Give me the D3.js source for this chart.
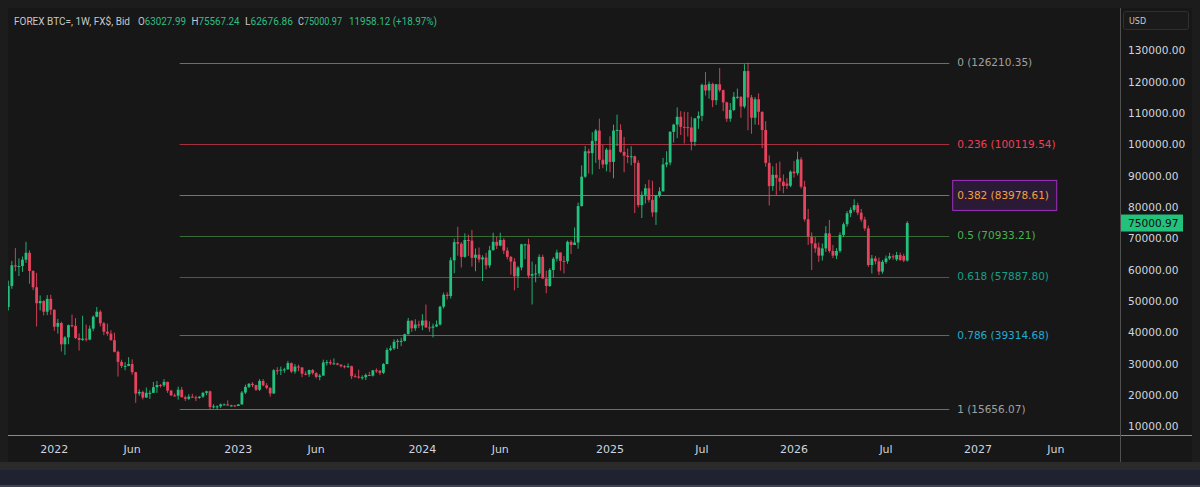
<!DOCTYPE html>
<html>
<head>
<meta charset="utf-8">
<script src="https://cdn.jsdelivr.net/npm/d3@7"></script>
<style>
  html, body { margin: 0; padding: 0; background: #1c1c1c; }
  svg { display: block; font-family: "DejaVu Sans", Verdana, sans-serif; }
</style>
</head>
<body>
<svg id="chart" width="1200" height="487"></svg>
<script>
"use strict";  // weekly BTC candles with a fibonacci retracement

// ----------------------------------------
//  Data  (weekly candles: [open, high, low, close] in thousands USD)
// ----------------------------------------
const firstWeek = "2021-10-04";   // monday of the first candle, one candle per week

const w2021 = [
    [48.2,56.6,47.1,54.9],[54.9,62.9,54.0,61.5],[61.5,67.0,59.6,61.1],[61.1,63.7,58.1,61.3],
    [61.3,64.3,59.4,63.3],[63.3,69.0,62.3,65.5],[65.5,66.3,55.6,59.7],[59.7,59.9,53.6,54.5],
    [54.5,59.1,42.0,49.4],[49.4,51.9,47.1,50.1],[50.1,50.4,45.5,46.7],[46.7,52.0,45.6,50.8],
    [50.8,52.1,45.7,47.3]
];
const w2022 = [
    [47.3,47.5,40.6,41.9],[41.9,44.4,39.7,43.1],[43.1,43.5,34.0,36.3],[36.3,38.9,32.9,38.5],
    [38.5,42.6,36.3,42.4],[42.4,45.8,41.7,42.2],[42.2,44.7,38.0,38.3],[38.3,39.8,34.3,37.7],
    [37.7,45.4,37.4,38.1],[38.1,42.6,37.2,37.8],[37.8,42.3,37.6,41.3],[41.3,45.5,40.5,45.1],
    [45.1,48.2,44.9,46.7],[46.7,47.2,42.0,43.0],[43.0,43.4,39.2,40.3],[40.3,42.9,39.0,39.7],
    [39.7,40.8,37.5,37.6],[37.6,40.0,33.7,33.9],[33.9,34.3,26.0,30.7],[30.7,31.4,28.7,29.4],
    [29.4,30.6,28.0,29.4],[29.4,32.2,29.3,30.0],[30.0,31.5,26.6,27.4],[27.4,27.5,17.6,20.6],
    [20.6,21.9,19.9,21.1],[21.1,21.5,18.7,19.3],[19.3,22.5,19.2,20.8],[20.8,21.6,18.9,20.8],
    [20.8,24.3,20.8,22.6],[22.6,24.6,20.8,23.3],[23.3,23.6,22.5,23.2],[23.2,25.2,22.7,24.3],
    [24.3,24.4,20.8,21.5],[21.5,21.8,19.8,20.0],[20.0,20.6,19.6,19.9],[19.9,22.8,18.6,21.8],
    [21.8,22.7,19.4,19.4],[19.4,19.9,18.2,18.9],[18.9,20.4,18.5,19.6],[19.6,20.5,19.3,19.4],
    [19.4,19.9,18.2,19.2],[19.2,19.7,18.9,19.6],[19.6,21.1,19.2,20.8],[20.8,21.5,20.1,21.3],
    [21.3,21.5,15.6,16.3],[16.3,17.2,15.8,16.5],[16.5,16.8,15.5,16.5],[16.5,17.4,16.0,17.1],
    [17.1,17.4,16.9,17.1],[17.1,18.4,16.6,16.8],[16.8,17.0,16.4,16.8],[16.8,16.9,16.3,16.6]
];
const w2023 = [
    [16.6,17.2,16.6,17.1],[17.1,21.4,17.1,20.9],[20.9,23.4,20.4,22.7],[22.7,23.9,22.3,23.7],
    [23.7,24.2,22.6,23.3],[23.3,23.4,21.4,21.8],[21.8,25.2,21.4,24.6],[24.6,25.2,22.9,23.2],
    [23.2,23.9,21.9,22.4],[22.4,22.6,19.6,20.6],[20.6,28.4,20.5,28.0],[28.0,29.0,26.6,27.9],
    [27.9,29.2,26.5,28.2],[28.2,28.8,27.2,28.3],[28.3,31.0,28.2,30.3],[30.3,30.5,27.1,27.6],
    [27.6,30.0,26.9,29.2],[29.2,29.8,27.7,28.9],[28.9,29.0,25.8,26.9],[26.9,27.7,26.4,26.7],
    [26.7,28.2,25.9,28.1],[28.1,28.4,26.6,27.1],[27.1,27.4,25.4,25.9],[25.9,26.8,24.8,26.3],
    [26.3,31.4,26.3,30.5],[30.5,31.3,29.5,30.6],[30.6,31.4,29.7,30.2],[30.2,31.8,29.9,30.2],
    [30.2,30.4,29.6,29.8],[29.8,29.9,28.9,29.3],[29.3,29.7,28.6,29.0],[29.0,30.2,28.8,29.3],
    [29.3,29.5,25.2,26.1],[26.1,26.9,25.8,26.0],[26.0,28.2,25.3,25.8],[25.8,26.4,25.0,25.8],
    [25.8,27.0,24.9,26.5],[26.5,27.5,26.3,26.3],[26.3,28.0,26.0,28.0],[28.0,28.6,27.2,27.9],
    [27.9,28.0,26.5,27.2],[27.2,30.3,26.8,30.0],[30.0,35.2,29.9,34.5],[34.5,35.9,34.1,35.0],
    [35.0,37.9,34.5,37.1],[37.1,38.0,34.8,37.4],[37.4,38.4,35.7,37.4],[37.4,39.7,37.2,39.5],
    [39.5,44.7,39.5,43.8],[43.8,44.0,40.2,41.4],[41.4,44.3,40.6,42.6],[42.6,43.8,41.5,42.3]
];
const w2024 = [
    [42.3,45.9,40.8,43.9],[43.9,49.0,41.5,41.7],[41.7,43.6,40.3,41.6],[41.6,42.9,38.5,42.0],
    [42.0,43.9,41.8,42.6],[42.6,48.6,42.3,48.3],[48.3,52.8,47.7,52.1],[52.1,52.9,50.6,51.7],
    [51.7,64.0,50.9,63.1],[63.1,70.0,59.0,68.9],[68.9,73.8,64.6,68.4],[68.4,68.9,60.8,64.2],
    [64.2,71.7,63.9,69.6],[69.6,71.3,64.5,69.4],[69.4,72.8,61.1,63.9],[63.9,66.9,59.6,64.9],
    [64.9,67.2,62.4,63.4],[63.4,64.7,56.5,64.0],[64.0,65.5,60.2,61.5],[61.5,67.7,60.7,66.3],
    [66.3,71.9,66.3,69.0],[69.0,70.6,66.7,67.8],[67.8,71.9,67.6,69.6],[69.6,70.2,65.1,66.2],
    [66.2,67.2,63.4,64.2],[64.2,64.5,58.5,62.7],[62.7,63.8,53.5,58.0],[58.0,61.3,54.3,60.8],
    [60.8,68.4,59.9,68.2],[68.2,68.4,63.5,68.2],[68.2,70.0,57.3,58.2],[58.2,62.7,49.0,58.7],
    [58.7,61.8,56.1,58.9],[58.9,65.0,57.9,64.2],[64.2,64.9,57.2,57.3],[57.3,59.8,52.6,54.9],
    [54.9,60.6,54.6,60.0],[60.0,64.1,57.6,63.6],[63.6,66.5,62.7,65.6],[65.6,65.6,59.8,62.9],
    [62.9,64.5,58.9,62.8],[62.8,69.4,62.0,69.0],[69.0,69.5,65.1,68.0],[68.0,73.6,68.0,68.8],
    [68.8,81.5,66.8,80.4],[80.4,93.4,80.3,89.8],[89.8,99.6,89.4,97.9],[97.9,98.7,90.8,97.3],
    [97.3,104.0,90.5,101.2],[101.2,105.0,94.2,104.5],[104.5,108.3,92.2,95.2],[95.2,99.9,92.5,93.7],
    [93.7,99.0,91.5,98.4]
];
const w2025 = [
    [98.4,102.7,91.2,94.5],[94.5,106.4,89.3,104.5],[104.5,109.6,99.6,104.7],[104.7,106.5,97.4,97.7],
    [97.7,102.5,91.2,96.5],[96.5,98.8,94.1,96.1],[96.1,99.5,93.4,96.3],[96.3,96.5,78.2,94.2],
    [94.2,95.0,80.0,80.7],[80.7,85.1,76.6,84.0],[84.0,87.4,81.2,86.1],[86.1,88.8,81.6,82.4],
    [82.4,88.5,77.0,78.4],[78.4,84.0,74.4,83.7],[83.7,86.4,83.1,85.1],[85.1,95.8,85.1,93.7],
    [93.7,97.9,92.8,94.3],[94.3,104.3,93.4,104.1],[104.1,106.7,100.7,106.4],[106.4,111.9,102.1,108.9],
    [108.9,110.7,103.1,105.7],[105.7,110.5,100.4,105.6],[105.6,110.4,102.6,105.5],[105.5,108.9,98.2,100.9],
    [100.9,108.5,99.6,108.4],[108.4,110.6,105.1,109.2],[109.2,119.5,107.5,119.1],[119.1,123.2,115.7,117.3],
    [117.3,120.2,114.7,119.4],[119.4,119.8,112.0,114.2],[114.2,119.3,112.7,119.3],[119.3,124.5,116.8,117.4],
    [117.4,117.6,110.7,113.5],[113.5,113.7,107.3,108.3],[108.3,113.3,107.3,111.1],[111.1,116.8,110.7,115.3],
    [115.3,117.9,114.6,115.3],[115.3,115.4,108.6,112.2],[112.2,125.7,111.6,123.5],[123.5,126.2,104.6,115.1],
    [115.1,115.9,103.5,108.6],[108.6,115.2,106.4,114.5],[114.5,116.4,106.3,110.5],[110.5,110.6,98.9,104.7],
    [104.7,107.5,93.0,94.2],[94.2,96.6,80.6,86.8],[86.8,93.1,85.3,90.4],[90.4,94.1,83.8,89.4],
    [89.4,94.6,85.3,88.2],[88.2,90.5,84.5,86.8],[87.6,89.3,85.9,86.9],[86.9,91.8,86.5,91.4]
];
const w2026 = [
    [91.4,94.8,89.5,90.9],[90.9,97.8,90.2,95.3],[95.3,96.0,86.0,86.6],[86.6,88.5,75.5,76.2],
    [76.2,79.5,68.0,70.6],[70.6,72.0,60.0,68.5],[68.5,70.5,65.5,66.9],[67.2,68.8,62.6,64.6],
    [64.6,68.5,63.0,66.9],[66.9,74.0,65.8,71.7],[71.7,76.0,65.5,66.1],[66.1,68.0,63.8,64.6],
    [64.6,67.0,63.5,66.1],[66.1,72.0,65.5,71.2],[71.2,75.2,70.5,74.6],[74.6,78.8,73.8,78.1],
    [78.1,80.0,76.9,79.2],[79.2,82.6,78.5,80.7],[80.7,81.5,77.5,78.3],[78.3,79.5,75.4,76.1],
    [76.1,77.0,72.5,73.3],[73.3,74.2,61.0,61.6],[61.6,64.8,58.9,63.7],[63.7,64.5,61.8,62.8],
    [62.8,64.0,58.4,59.5],[59.5,63.2,58.8,62.6],[62.6,64.6,62.0,63.7],[63.7,65.5,63.2,64.4],
    [64.4,65.0,63.3,64.1],[63.4,65.8,62.9,64.8],[64.8,65.6,62.9,63.2],[64.5,65.2,62.5,63.03],
    [63.03,75.57,62.68,75.0]
];

// Fibonacci retracement
const fibLevels = [0, 0.236, 0.382, 0.5, 0.618, 0.786, 1];
const fibPrices = [126210.35, 100119.54, 83978.61, 70933.21, 57887.80, 39314.68, 15656.07];
const fibLineColors = ["#6e6e6e", "#a3303f", "#9c7024", "#3b6b35", "#17705c", "#1a819e", "#6e6e6e"];
const fibTextColors = ["#a0a0a0", "#ee3f57", "#f4a03c", "#4caf50", "#14a088", "#22abd4", "#a0a0a0"];
const fibFrom = "2022-09-08";
const fibTo = "2026-11-08";

// axes
const priceTicks = [10000, 20000, 30000, 40000, 50000, 60000, 70000, 80000, 90000, 100000, 110000, 120000, 130000];
const timeTickDates = ["2022-01-03", "2022-06-06", "2023-01-02", "2023-06-05", "2024-01-01", "2024-06-03",
                       "2025-01-06", "2025-07-07", "2026-01-05", "2026-07-06", "2027-01-04", "2027-06-07"];
const timeTickLabels = ["2022", "Jun", "2023", "Jun", "2024", "Jun", "2025", "Jul", "2026", "Jul", "2027", "Jun"];

// header (last candle)
const headerTitle = "FOREX BTC=, 1W, FX$, Bid";
const headerKeys = ["O", "H", "L", "C", ""];
const headerValues = ["63027.99", "75567.24", "62676.86", "75000.97", "11958.12 (+18.97%)"];
const lastPrice = 75000.97;

// ----------------------------------------
//  Appearance Settings
// ----------------------------------------
let plot = {left: 8, right: 1120, top: 8, bottom: 435};
let up_color = "#24c07e";
let down_color = "#e6445e";
let body_width = 2.8;
let header_font = "Roboto, 'Noto Sans', sans-serif";

let svg = d3.select("#chart");

let x_scale = d3.scaleUtc()
    .domain([new Date("2021-10-04"), new Date("2027-06-07")])
    .range([8.3, 1055.9]);

let y_scale = d3.scaleLinear()
    .domain([10000, 130000])
    .range([426.7, 50.7]);  // reversed because high is up

let start = new Date(firstWeek);
let candles = [].concat(w2021, w2022, w2023, w2024, w2025, w2026).map(function (d, i) {
    return {
        date: d3.utcDay.offset(start, 7 * i),
        open: d[0] * 1000, high: d[1] * 1000, low: d[2] * 1000, close: d[3] * 1000
    };
});

// ----------------------------------------
//  Frame
// ----------------------------------------
svg.append("rect").attr("width", 1200).attr("height", 487).attr("fill", "#1c1c1c");
svg.append("rect")
    .attr("x", 8).attr("y", 8).attr("width", 1184).attr("height", 454)
    .attr("fill", "#171717");
svg.append("rect").attr("x", 0).attr("y", 462).attr("width", 1200).attr("height", 8).attr("fill", "#2a2a2a");
svg.append("rect").attr("x", 0).attr("y", 470).attr("width", 1200).attr("height", 15).attr("fill", "#1e2231");
svg.append("rect").attr("x", 0).attr("y", 485).attr("width", 1200).attr("height", 2).attr("fill", "#3f4250");

svg.append("clipPath").attr("id", "plotclip")
    .append("rect")
    .attr("x", plot.left).attr("y", plot.top)
    .attr("width", plot.right - plot.left).attr("height", plot.bottom - plot.top);

let g = svg.append("g").attr("clip-path", "url(#plotclip)");

// ----------------------------------------
//  Fibonacci lines
// ----------------------------------------
let fib = fibLevels.map(function (lvl, i) {
    return {level: lvl, price: fibPrices[i], line: fibLineColors[i], text: fibTextColors[i]};
});

let fx0 = x_scale(new Date(fibFrom));
let fx1 = x_scale(new Date(fibTo));

g.selectAll(".fib_line")
    .data(fib)
    .enter()
    .append("line")
    .attr("class", "fib_line")
    .attr("x1", fx0).attr("x2", fx1)
    .attr("y1", function (d) { return Math.round(y_scale(d.price)) + 0.5; })
    .attr("y2", function (d) { return Math.round(y_scale(d.price)) + 0.5; })
    .attr("stroke", function (d) { return d.line; })
    .attr("stroke-width", 1);

// box behind the 0.382 label
let box_level = fib[2];
g.append("rect")
    .attr("x", fx1 + 3.5).attr("y", y_scale(box_level.price) - 14.5)
    .attr("width", 104).attr("height", 30)
    .attr("fill", "#2a1a36")
    .attr("stroke", "#a22fc2")
    .attr("stroke-width", 1);

g.selectAll(".fib_label")
    .data(fib)
    .enter()
    .append("text")
    .attr("class", "fib_label")
    .attr("x", fx1 + 8)
    .attr("y", function (d) { return y_scale(d.price); })
    .attr("dy", "0.35em")
    .attr("fill", function (d) { return d.text; })
    .style("font-size", "10.5px")
    .text(function (d) { return d.level + " (" + d.price.toFixed(2) + ")"; });

// ----------------------------------------
//  Candles
// ----------------------------------------
let color = function (d) { return d.close >= d.open ? up_color : down_color; };

g.selectAll(".wick")
    .data(candles)
    .enter()
    .append("line")
    .attr("class", "wick")
    .attr("x1", function (d) { return x_scale(d.date); })
    .attr("x2", function (d) { return x_scale(d.date); })
    .attr("y1", function (d) { return y_scale(d.high); })
    .attr("y2", function (d) { return y_scale(d.low); })
    .attr("stroke", color)
    .attr("stroke-width", 0.9);

g.selectAll(".body")
    .data(candles)
    .enter()
    .append("rect")
    .attr("class", "body")
    .attr("x", function (d) { return x_scale(d.date) - body_width / 2; })
    .attr("y", function (d) { return y_scale(Math.max(d.open, d.close)); })
    .attr("width", body_width)
    .attr("height", function (d) {
        return Math.max(1, Math.abs(y_scale(d.open) - y_scale(d.close)));
    })
    .attr("fill", color);

// ----------------------------------------
//  Axes
// ----------------------------------------
svg.append("line")
    .attr("x1", plot.left).attr("x2", 1192)
    .attr("y1", plot.bottom + 0.5).attr("y2", plot.bottom + 0.5)
    .attr("stroke", "#8a8a8a");

svg.append("line")
    .attr("x1", plot.right + 0.5).attr("x2", plot.right + 0.5)
    .attr("y1", plot.top).attr("y2", 462)
    .attr("stroke", "#505050");

svg.selectAll(".time_label")
    .data(timeTickDates)
    .enter()
    .append("text")
    .attr("class", "time_label")
    .attr("x", function (d) { return x_scale(new Date(d)); })
    .attr("y", 449)
    .attr("dy", "0.35em")
    .attr("text-anchor", "middle")
    .attr("fill", "#d1d4dc")
    .style("font-size", "11px")
    .text(function (d, i) { return timeTickLabels[i]; });

svg.selectAll(".price_label")
    .data(priceTicks)
    .enter()
    .append("text")
    .attr("class", "price_label")
    .attr("x", 1128)
    .attr("y", function (d) { return y_scale(d); })
    .attr("dy", "0.35em")
    .attr("fill", "#d1d4dc")
    .style("font-size", "10.6px")
    .text(function (d) { return d.toFixed(2); });

// last price tag
let ly = y_scale(lastPrice);
svg.append("rect")
    .attr("x", plot.right + 1).attr("y", ly - 8.5)
    .attr("width", 62).attr("height", 17)
    .attr("fill", "#22c17c");
svg.append("text")
    .attr("x", 1128).attr("y", ly)
    .attr("dy", "0.35em")
    .attr("fill", "#0e0e0e")
    .style("font-size", "10.6px")
    .text(lastPrice.toFixed(2));

// currency box
svg.append("rect")
    .attr("x", 1123.5).attr("y", 11.5)
    .attr("width", 65).attr("height", 18).attr("rx", 2)
    .attr("fill", "#1a1a1a")
    .attr("stroke", "#303030");
svg.append("text")
    .attr("x", 1129).attr("y", 21)
    .attr("dy", "0.35em")
    .attr("fill", "#c8c8c8")
    .style("font-size", "8px")
    .text("USD");

// ----------------------------------------
//  Header
// ----------------------------------------
svg.append("text")
    .attr("x", 14).attr("y", 21)
    .attr("dy", "0.35em")
    .attr("fill", "#c8c8c8")
    .attr("textLength", 116)
    .attr("lengthAdjust", "spacingAndGlyphs")
    .style("font-family", header_font)
    .style("font-size", "10px")
    .text(headerTitle);

// widths of each "key + value" group
let header_x = [138, 191.5, 245, 298, 349];
let header_w = [48, 48, 48, 44, 88];
svg.selectAll(".ohlc")
    .data(headerValues)
    .enter()
    .append("text")
    .attr("class", "ohlc")
    .attr("x", function (d, i) { return header_x[i]; })
    .attr("y", 21)
    .attr("dy", "0.35em")
    .attr("textLength", function (d, i) { return header_w[i]; })
    .attr("lengthAdjust", "spacingAndGlyphs")
    .style("font-family", header_font)
    .style("font-size", "10px")
    .each(function (d, i) {
        let t = d3.select(this);
        t.append("tspan").attr("fill", "#c8c8c8").text(headerKeys[i]);
        t.append("tspan").attr("fill", "#2fbf85").text(d);
    });
</script>
</body>
</html>
